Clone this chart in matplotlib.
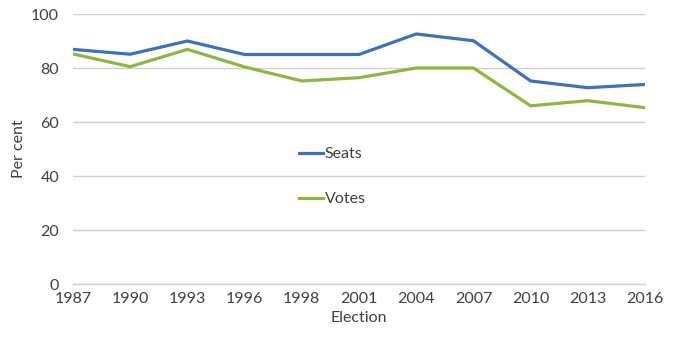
import matplotlib.pyplot as plt
import numpy as np

elections = ['1987', '1990', '1993', '1996', '1998', '2001',
             '2004', '2007', '2010', '2013', '2016']
seats = [86.9, 85.1, 90.0, 85.0, 85.0, 85.0, 92.6, 90.1, 75.2, 72.7, 73.9]
votes = [85.2, 80.5, 86.9, 80.4, 75.2, 76.4, 80.0, 80.0, 66.0, 67.9, 65.3]

plt.rcParams['font.family'] = ['Lato', 'DejaVu Sans']
text_col = '#404040'

fig = plt.figure(figsize=(6.78, 3.43), dpi=100)
ax = fig.add_axes([73 / 678, 59 / 343, 572 / 678, 270 / 343])

x = np.arange(len(elections))
ax.plot(x, seats, color='#3c73b8', lw=2.3, label='Seats', solid_joinstyle='miter')
ax.plot(x, votes, color='#8fb644', lw=2.3, label='Votes', solid_joinstyle='miter')

ax.set_xlim(0, len(elections) - 1)
ax.set_ylim(0, 100)
ax.set_yticks([0, 20, 40, 60, 80, 100])
ax.set_xticks(x)
ax.set_xticklabels(elections)
ax.yaxis.grid(True, color='#cfcfcf', lw=1)
ax.axhline(0, color='#cfcfcf', lw=1, clip_on=False, zorder=0.5)
ax.set_axisbelow(True)
for s in ax.spines.values():
    s.set_visible(False)
ax.tick_params(length=0, labelsize=11.5, colors=text_col, pad=6)
ax.tick_params(axis='y', pad=10)

ax.set_xlabel('Election', fontsize=11.5, color=text_col, labelpad=3)
ax.set_ylabel('Per cent', fontsize=11.5, color=text_col, labelpad=4)

fig.legend(loc='upper left', bbox_to_anchor=(291 / 678, 1 - 139 / 343),
           frameon=False, borderpad=0, labelspacing=1.95, handlelength=1.5,
           handletextpad=0.1, fontsize=11.5, labelcolor=text_col)

fig.savefig('out.png', dpi=100)
